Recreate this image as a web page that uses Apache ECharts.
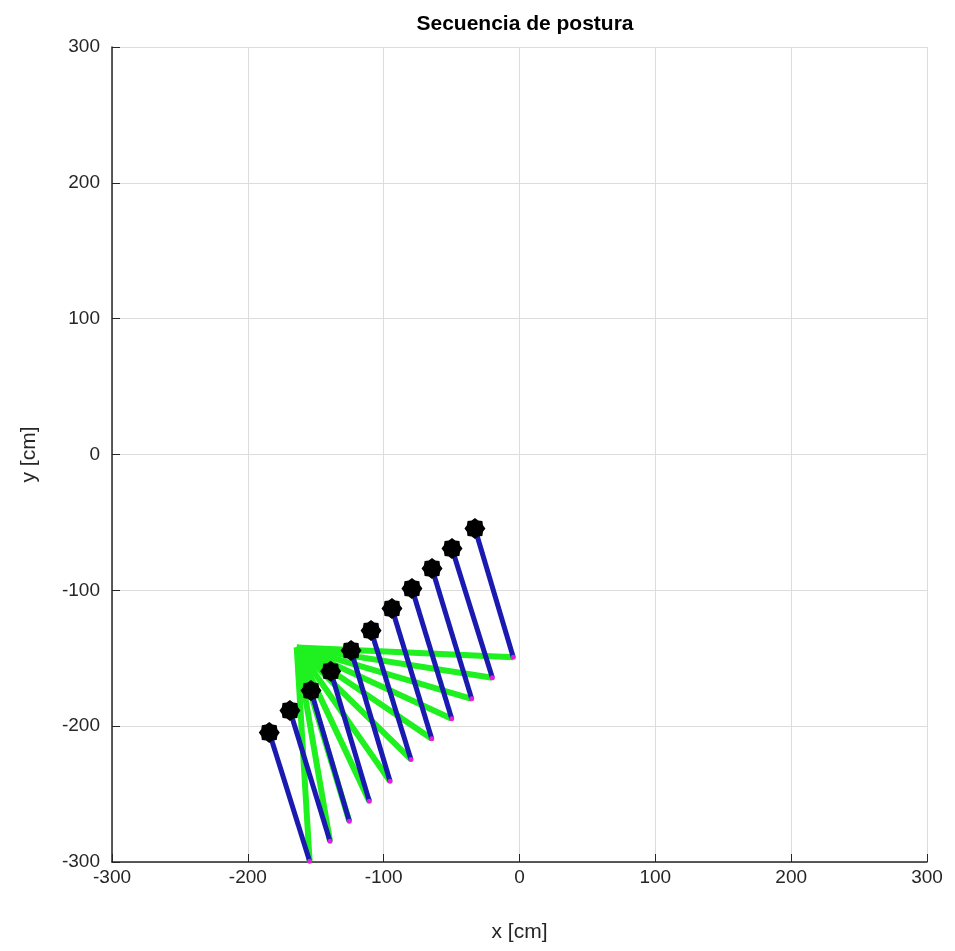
<!DOCTYPE html>
<html>
<head>
<meta charset="utf-8">
<script src="https://cdn.jsdelivr.net/npm/echarts@6/dist/echarts.min.js"></script>
<style>
  html, body { margin: 0; padding: 0; background: #fff; }
  #chart { width: 955px; height: 951px; }
</style>
</head>
<body>
<div id="chart"></div>
<script>
// base of the arm (shoulder)
var base = [-164, -142]

// elbow positions (end of green link)
var jointX = [-154.5, -139.5, -125.3, -110.6, -95.3, -79.9, -64.6, -49.9, -35.2, -20.0, -4.6]
var jointY = [-299.5, -284.7, -270.0, -255.2, -240.5, -224.5, -209.3, -194.6, -179.9, -164.4, -149.2]

// end effector positions (black markers)
var endX = [-184.2, -169.0, -153.5, -139.0, -124.0, -109.3, -93.9, -79.2, -64.4, -49.7, -32.8]
var endY = [-204.7, -188.5, -173.8, -159.6, -144.3, -129.6, -113.4, -98.7, -83.9, -69.2, -54.5]

var greenLinks = []
var blueLinks = []
var joints = []
var ends = []
for (var i = 0; i < jointX.length; i++) {
  greenLinks.push({ coords: [base, [jointX[i], jointY[i]]] })
  blueLinks.push({ coords: [[jointX[i], jointY[i]], [endX[i], endY[i]]] })
  joints.push([jointX[i], jointY[i]])
  ends.push([endX[i], endY[i]])
}

// 8 point star, like the matlab marker
function starPath(n, r1, r2) {
  var d = ''
  for (var k = 0; k < n * 2; k++) {
    var r = k % 2 === 0 ? r1 : r2
    var a = Math.PI * k / n - Math.PI / 2
    d += (k === 0 ? 'M' : 'L') + (r * Math.cos(a)).toFixed(2) + ' ' + (r * Math.sin(a)).toFixed(2)
  }
  return 'path://' + d + 'Z'
}

var axisText = { color: '#262626', fontSize: 19, fontFamily: 'Liberation Sans, Arial, sans-serif' }
var nameText = { color: '#262626', fontSize: 21, fontFamily: 'Liberation Sans, Arial, sans-serif' }

var chart = echarts.init(document.getElementById('chart'))
var option = {
  animation: false,
  title: {
    text: 'Secuencia de postura',
    left: 520,
    textAlign: 'center',
    top: 9,
    textStyle: { fontSize: 21, fontWeight: 'bold', color: '#000', fontFamily: 'Liberation Sans, Arial, sans-serif' }
  },
  grid: { left: 112, right: 28, top: 47, bottom: 89 },
  xAxis: {
    type: 'value',
    min: -300,
    max: 300,
    interval: 100,
    name: 'x [cm]',
    nameLocation: 'middle',
    nameGap: 60,
    nameTextStyle: nameText,
    axisLine: { onZero: false, lineStyle: { color: '#262626', width: 1.5 } },
    axisTick: { inside: true, length: 8, lineStyle: { color: '#262626' } },
    axisLabel: Object.assign({ margin: 6 }, axisText),
    splitLine: { show: true, lineStyle: { color: '#dcdcdc', width: 1 } }
  },
  yAxis: {
    type: 'value',
    min: -300,
    max: 300,
    interval: 100,
    name: 'y [cm]',
    nameLocation: 'middle',
    nameGap: 72,
    nameTextStyle: nameText,
    axisLine: { onZero: false, lineStyle: { color: '#262626', width: 1.5 } },
    axisTick: { inside: true, length: 8, lineStyle: { color: '#262626' } },
    axisLabel: Object.assign({ margin: 12 }, axisText),
    splitLine: { show: true, lineStyle: { color: '#dcdcdc', width: 1 } }
  },
  series: [
    {
      type: 'lines',
      coordinateSystem: 'cartesian2d',
      lineStyle: { color: '#1ff01f', width: 6, opacity: 1 },
      data: greenLinks,
      z: 2
    },
    {
      type: 'lines',
      coordinateSystem: 'cartesian2d',
      lineStyle: { color: '#1a1ab0', width: 5, opacity: 1 },
      data: blueLinks,
      z: 3
    },
    {
      type: 'scatter',
      symbol: 'circle',
      symbolSize: 5,
      itemStyle: { color: '#e020e0', opacity: 1 },
      data: joints,
      z: 4
    },
    {
      type: 'scatter',
      symbol: starPath(8, 10, 8.3),
      symbolSize: 21,
      itemStyle: { color: '#000', opacity: 1 },
      data: ends,
      z: 5
    }
  ]
}
chart.setOption(option)
</script>
</body>
</html>
